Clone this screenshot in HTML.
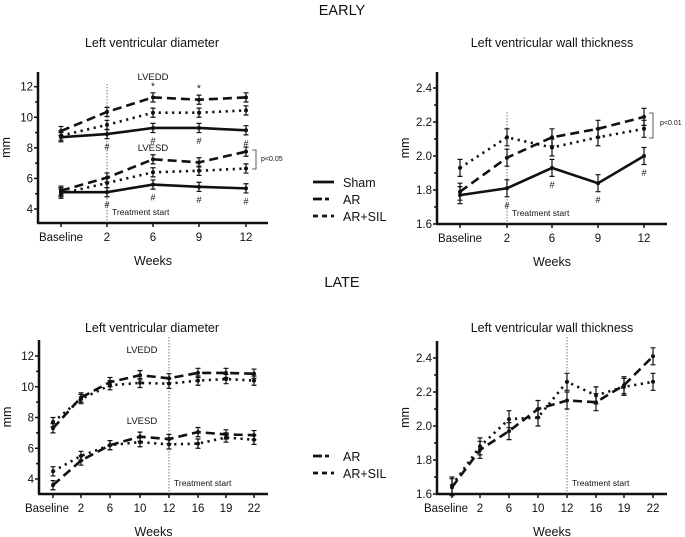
<!DOCTYPE html>
<html><head><meta charset="utf-8"><style>
body{margin:0;background:#fff;}
svg{display:block;font-family:"Liberation Sans",sans-serif;}
</style></head><body>
<svg id="c" width="685" height="537" viewBox="0 0 685 537"></svg>
<script>
const earlyX=["Baseline","2","6","9","12"];
const lateX=["Baseline","2","6","10","12","16","19","22"];
// Early LV diameter
const eShamEDD=[8.7,8.9,9.3,9.3,9.15];
const eAREDD=[9.1,10.35,11.3,11.15,11.3];
const eSiLEDD=[8.8,9.5,10.3,10.3,10.45];
const eShamESD=[5.1,5.1,5.6,5.45,5.35];
const eARESD=[5.2,6.05,7.25,7.05,7.75];
const eSiLESD=[5.0,5.7,6.4,6.5,6.65];
// Early LV wall thickness
const eShamWT=[1.77,1.81,1.93,1.84,2.0];
const eARWT=[1.79,1.99,2.11,2.16,2.23];
const eSiLWT=[1.93,2.11,2.05,2.11,2.16];
// Late LV diameter
const lAREDD=[7.3,9.3,10.3,10.75,10.55,10.9,10.9,10.85];
const lSiLEDD=[7.7,9.2,10.1,10.25,10.2,10.4,10.5,10.4];
const lARESD=[3.6,5.2,6.2,6.75,6.6,7.05,6.9,6.85];
const lSiLESD=[4.5,5.5,6.2,6.4,6.25,6.3,6.7,6.55];
// Late LV wall thickness
const lARWT=[1.64,1.86,1.97,2.1,2.15,2.14,2.24,2.41];
const lSiLWT=[1.65,1.88,2.04,2.05,2.26,2.18,2.23,2.26];
const errD=0.3, errW=0.05;

const NS="http://www.w3.org/2000/svg";
const svg=document.getElementById('c');
function el(t,a,p){const e=document.createElementNS(NS,t);for(const k in a)e.setAttribute(k,a[k]);(p||svg).appendChild(e);return e;}
function txt(s,x,y,size,anchor,p,extra){const e=el('text',Object.assign({x:x,y:y,'font-size':size,'text-anchor':anchor||'middle',fill:'#111'},extra||{}),p);e.textContent=s;return e;}
const styles={sham:{w:2.6,d:null},ar:{w:2.6,d:"9,5"},sil:{w:2.6,d:"2.2,4.5"}};

function panel(cfg){
  const g=el('g',{});
  
  
  const y=v=>cfg.y0+(v-cfg.v0)*(cfg.y1-cfg.y0)/(cfg.v1-cfg.v0);
  const x=i=>cfg.xs[i];
  const ya=el('line',{x1:cfg.ax,y1:cfg.top,x2:cfg.ax,y2:cfg.base,stroke:'#111','stroke-width':2.5},g);
  
  const xa=el('line',{x1:cfg.ax-1,y1:cfg.base,x2:cfg.right,y2:cfg.base,stroke:'#111','stroke-width':2.5},g);
  
  cfg.ticks.forEach((t,i)=>{
    const ty=y(t);
    el('line',{x1:cfg.ax-4,y1:ty,x2:cfg.ax,y2:ty,stroke:'#111','stroke-width':1.5},g);
    const l=txt(cfg.tickLabels[i],cfg.ax-5,ty+4,11.5,'end',g);
    
    if(i<cfg.ticks.length-1){const my=y((t+cfg.ticks[i+1])/2);el('line',{x1:cfg.ax-3,y1:my,x2:cfg.ax,y2:my,stroke:'#111','stroke-width':1.5},g);}
  });
  cfg.xlabels.forEach((s,i)=>{
    el('line',{x1:x(i),y1:cfg.base,x2:x(i),y2:cfg.base+4,stroke:'#111','stroke-width':1.5},g);
    const l=txt(s,x(i)+(i==0&&cfg.late?-6:0),cfg.base+18,11.5,'middle',g);
    
  });
  const yt=txt('mm',cfg.ax-28,(cfg.top+cfg.base)/2,12.5,'middle',g,{transform:`rotate(-90 ${cfg.ax-28} ${(cfg.top+cfg.base)/2})`});
  
  const xt=txt('Weeks',(cfg.ax+cfg.right)/2,cfg.base+42,12.5,'middle',g);
  
  const tt=txt(cfg.title,cfg.titleX,cfg.titleY,12.5,'middle',g);
  
  const vl=el('line',{x1:x(cfg.treatIdx),y1:cfg.vtop,x2:x(cfg.treatIdx),y2:cfg.base,stroke:'#555','stroke-width':0.8,'stroke-dasharray':'1.5,1.5'},g);
  
  const ts=txt('Treatment start',x(cfg.treatIdx)+5,cfg.base-8,8.5,'start',g);
  
  cfg.series.forEach(s=>{
    const st=styles[s.style];
    const pts=s.data.map((v,i)=>x(i)+','+y(v)).join(' ');
    const pl=el('polyline',{points:pts,fill:'none',stroke:'#111','stroke-width':st.w,'stroke-linecap':'butt'},g);
    if(st.d)pl.setAttribute('stroke-dasharray',st.d);
    
    s.data.forEach((v,i)=>{
      const e=cfg.err;
      const eb=el('path',{d:`M${x(i)},${y(v-e)}V${y(v+e)}M${x(i)-2.5},${y(v-e)}h5M${x(i)-2.5},${y(v+e)}h5`,stroke:'#111','stroke-width':1.2,fill:'none'},g);
      
      const pt=el('circle',{cx:x(i),cy:y(v),r:2,fill:'#111'},g);
      
    });
  });
  (cfg.annot||[]).forEach(a=>{const t=txt(a[0],a[1],a[2],a[3],'middle',g);});
  return {g:g,y:y,x:x};
}

const h1=txt('EARLY',342,15,14.5);
const h2=txt('LATE',342,287,14.5);

const p1=panel({name:'early-lv-diameter',ax:38,right:268,top:72,base:223,y0:209,y1:86.7,v0:4,v1:12,
  ticks:[4,6,8,10,12],tickLabels:['4','6','8','10','12'],xs:[61,107,153,199,246],xlabels:earlyX,
  title:'Left ventricular diameter',titleX:152,titleY:47,treatIdx:1,vtop:84,err:errD,
  series:[{data:eShamEDD,style:'sham',name:'sham-lvedd-line'},{data:eAREDD,style:'ar',name:'ar-lvedd-line'},{data:eSiLEDD,style:'sil',name:'arsil-lvedd-line'},
  {data:eShamESD,style:'sham',name:'sham-lvesd-line'},{data:eARESD,style:'ar',name:'ar-lvesd-line'},{data:eSiLESD,style:'sil',name:'arsil-lvesd-line'}],
  annot:[['LVEDD',153,80,9.5],['LVESD',153,151,9.5]]});
[1,2,3,4].forEach(i=>{
  txt('#',p1.x(i),p1.y(eShamEDD[i])+16,9,'middle',p1.g);
  txt('#',p1.x(i),p1.y(eShamESD[i])+16,9,'middle',p1.g);
});
[2,3].forEach(i=>txt('*',p1.x(i),p1.y(eAREDD[i])-8,10,'middle',p1.g));
el('path',{d:'M252,150H256V169H252',stroke:'#333','stroke-width':0.8,fill:'none'},p1.g);
txt('p<0.05',261,161,7,'start',p1.g);

const p2=panel({name:'early-lv-wall-thickness',ax:437,right:667,top:72,base:224,y0:224,y1:88,v0:1.6,v1:2.4,
  ticks:[1.6,1.8,2.0,2.2,2.4],tickLabels:['1.6','1.8','2.0','2.2','2.4'],xs:[460,507,552,598,644],xlabels:earlyX,
  title:'Left ventricular wall thickness',titleX:552,titleY:47,treatIdx:1,vtop:112,err:errW,
  series:[{data:eShamWT,style:'sham',name:'sham-wt-line'},{data:eARWT,style:'ar',name:'ar-wt-line'},{data:eSiLWT,style:'sil',name:'arsil-wt-line'}]});
[1,2,3,4].forEach(i=>txt('#',p2.x(i),p2.y(eShamWT[i])+20,9,'middle',p2.g));
el('path',{d:'M649,113H653V138H649',stroke:'#333','stroke-width':0.8,fill:'none'},p2.g);
txt('p<0.01',660,125,7,'start',p2.g);

const p3=panel({name:'late-lv-diameter',late:true,ax:39,right:268,top:340,base:494,y0:479,y1:356,v0:4,v1:12,
  ticks:[4,6,8,10,12],tickLabels:['4','6','8','10','12'],xs:[53,81,110,140,169,198,226,254],xlabels:lateX,
  title:'Left ventricular diameter',titleX:152,titleY:332,treatIdx:4,vtop:337,err:errD,
  series:[{data:lAREDD,style:'ar',name:'ar-lvedd-line'},{data:lSiLEDD,style:'sil',name:'arsil-lvedd-line'},
  {data:lARESD,style:'ar',name:'ar-lvesd-line'},{data:lSiLESD,style:'sil',name:'arsil-lvesd-line'}],
  annot:[['LVEDD',142,353,9.5],['LVESD',142,424,9.5]]});

const p4=panel({name:'late-lv-wall-thickness',late:true,ax:437,right:667,top:341,base:494,y0:494,y1:358,v0:1.6,v1:2.4,
  ticks:[1.6,1.8,2.0,2.2,2.4],tickLabels:['1.6','1.8','2.0','2.2','2.4'],xs:[452,480,509,538,567,596,624,653],xlabels:lateX,
  title:'Left ventricular wall thickness',titleX:552,titleY:332,treatIdx:4,vtop:337,err:errW,
  series:[{data:lARWT,style:'ar',name:'ar-wt-line'},{data:lSiLWT,style:'sil',name:'arsil-wt-line'}]});

function legend(items,y0,name){
  const g=el('g',{});
  
  
  items.forEach((it,i)=>{
    const st=styles[it[1]];const yy=y0+i*17;
    const l=el('line',{x1:313,y1:yy,x2:334,y2:yy,stroke:'#111','stroke-width':2.8},g);
    if(st.d)l.setAttribute('stroke-dasharray',it[1]=='ar'?'9,3,4,10':'5,4');
    
    const t=txt(it[0],343,yy+5,12.5,'start',g);
    
  });
}
legend([['Sham','sham'],['AR','ar'],['AR+SIL','sil']],182,'early-legend');
legend([['AR','ar'],['AR+SIL','sil']],456,'late-legend');
</script>
</body></html>
